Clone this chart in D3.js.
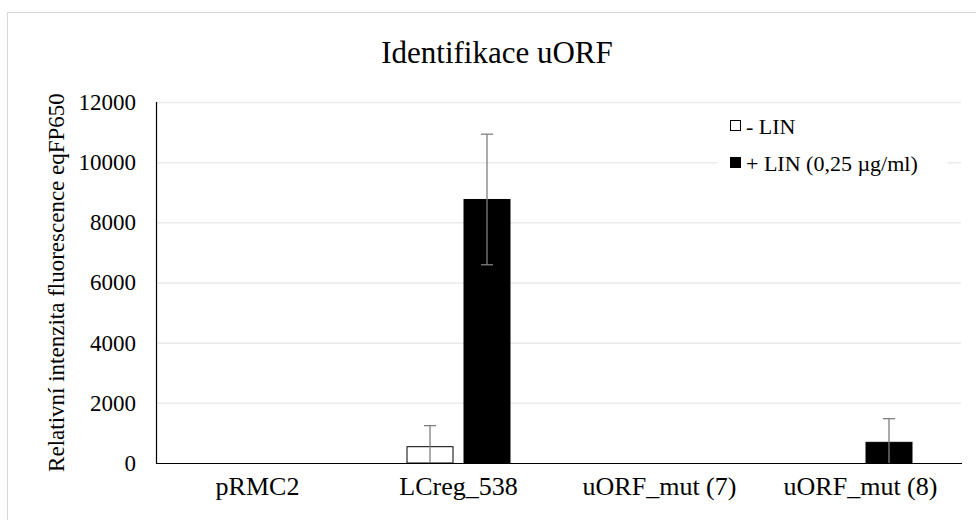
<!DOCTYPE html>
<html>
<head>
<meta charset="utf-8">
<script src="https://cdn.jsdelivr.net/npm/d3@7"></script>
<style>
body{margin:0;background:#fff;}
</style>
</head>
<body>
<div class="canvas"></div>
<script>
const categories=["pRMC2","LCreg_538","uORF_mut (7)","uORF_mut (8)"];
const seriesNames=["- LIN","+ LIN (0,25 µg/ml)"];
const minusLin=[0,542,0,0];
const minusLinErr=[0,700,0,0];
const plusLin=[0,8760,0,688];
const plusLinErr=[0,2170,0,785];
const yTicks=[0,2000,4000,6000,8000,10000,12000];

const canvasWidth=976,canvasHeight=520;
const plotLeft=157,plotRight=961,plotTop=102,plotBottom=463;
const fills=["#fff","#000"];
const FONT="'Liberation Serif', 'Times New Roman', 'DejaVu Serif', serif";

const svg=d3.select(".canvas").append("svg")
  .attr("width",canvasWidth)
  .attr("height",canvasHeight)
  .attr("font-family",FONT);

svg.append("rect")
  .attr("x",7.5).attr("y",12.5)
  .attr("width",1000).attr("height",600)
  .attr("fill","#fff").attr("stroke","#d9d9d9");

const yScale=d3.scaleLinear().domain([0,12000]).range([plotBottom,plotTop]);
const x0=d3.scaleBand().domain(categories).range([plotLeft,plotRight]);
const x1=d3.scaleBand().domain(seriesNames)
  .range([x0.bandwidth()/2-51.5,x0.bandwidth()/2+51.5])
  .paddingInner(0.193);

// gridlines
svg.append("g").selectAll("line")
  .data(yTicks.slice(1))
  .enter().append("line")
  .attr("x1",plotLeft).attr("x2",plotRight)
  .attr("y1",d=>yScale(d)+0.5).attr("y2",d=>yScale(d)+0.5)
  .attr("stroke","#ebebeb").attr("stroke-width",1.5);

const yAxis=d3.axisLeft(yScale).tickValues(yTicks).tickFormat(d3.format("d")).tickSize(0).tickPadding(21);
const gY=svg.append("g").attr("transform",`translate(${plotLeft},0)`).call(yAxis)
  .attr("font-family",FONT).attr("font-size",23);
gY.select(".domain").remove();
gY.selectAll("text").attr("fill","#000");

const rows=[];
categories.forEach((c,i)=>{
  rows.push({cat:c,s:seriesNames[0],v:minusLin[i],e:minusLinErr[i]});
  rows.push({cat:c,s:seriesNames[1],v:plusLin[i],e:plusLinErr[i]});
});

svg.append("g").selectAll("rect")
  .data(rows.filter(d=>d.v>0))
  .enter().append("rect")
  .attr("x",d=>x0(d.cat)+x1(d.s))
  .attr("y",d=>yScale(d.v))
  .attr("width",x1.bandwidth())
  .attr("height",d=>yScale(0)-yScale(d.v))
  .attr("fill",d=>fills[seriesNames.indexOf(d.s)])
  .attr("stroke","#000").attr("stroke-width",1);

// error bars
const eb=svg.append("g").attr("stroke","#7f7f7f").attr("stroke-width",1.3);
rows.filter(d=>d.e>0).forEach(d=>{
  const cx=x0(d.cat)+x1(d.s)+x1.bandwidth()/2;
  const lo=Math.max(0,d.v-d.e),hi=d.v+d.e;
  eb.append("line").attr("x1",cx).attr("x2",cx).attr("y1",yScale(lo)).attr("y2",yScale(hi));
  eb.append("line").attr("x1",cx-6).attr("x2",cx+6).attr("y1",yScale(hi)).attr("y2",yScale(hi));
  if(d.v-d.e>=0){
    eb.append("line").attr("x1",cx-6).attr("x2",cx+6).attr("y1",yScale(lo)).attr("y2",yScale(lo));
  }
});

// axes lines
svg.append("line").attr("x1",plotLeft).attr("x2",plotRight+1).attr("y1",plotBottom+0.5).attr("y2",plotBottom+0.5)
  .attr("stroke","#000").attr("stroke-width",1.2);
svg.append("line").attr("x1",plotLeft-0.5).attr("x2",plotLeft-0.5).attr("y1",plotTop).attr("y2",plotBottom+1)
  .attr("stroke","#000").attr("stroke-width",1.2);

// category labels
svg.append("g").selectAll("text")
  .data(categories)
  .enter().append("text")
  .attr("x",d=>x0(d)+x0.bandwidth()/2)
  .attr("y",495)
  .attr("text-anchor","middle")
  .attr("font-size",26)
  .text(d=>d);

// title
svg.append("text").attr("x",497).attr("y",63)
  .attr("text-anchor","middle").attr("font-size",31)
  .text("Identifikace uORF");

// y axis title
svg.append("text")
  .attr("transform",`translate(64,${(plotTop+plotBottom)/2}) rotate(-90)`)
  .attr("text-anchor","middle").attr("font-size",23)
  .text("Relativní intenzita fluorescence eqFP650");

// legend
const lg=svg.append("g");
lg.append("rect").attr("x",717).attr("y",110).attr("width",231).attr("height",74).attr("fill","#fff");
seriesNames.forEach((s,i)=>{
  const cy=126+i*37;
  lg.append("rect").attr("x",730.5).attr("y",cy-5.5).attr("width",10).attr("height",10)
    .attr("fill",fills[i]).attr("stroke","#000").attr("stroke-width",1);
  lg.append("text").attr("x",746).attr("y",cy+7.5).attr("font-size",22).text(s);
});
</script>
</body>
</html>
